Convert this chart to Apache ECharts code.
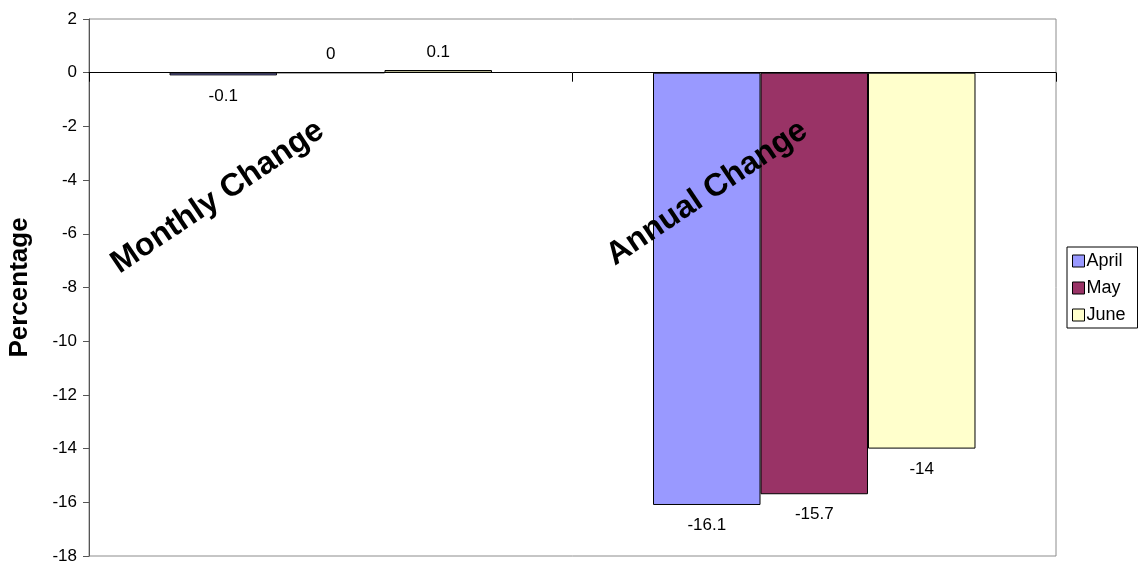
<!DOCTYPE html>
<html>
<head>
<meta charset="utf-8">
<script src="https://cdn.jsdelivr.net/npm/echarts@6/dist/echarts.min.js"></script>
<style>
html,body{margin:0;padding:0;background:#fff;}
#chart{width:1138px;height:564px;}
</style>
</head>
<body>
<div id="chart"></div>
<script>
var categories = ['Monthly Change', 'Annual Change'];
var seriesNames = ['April', 'May', 'June'];
var aprilValues = [-0.1, -16.1];
var mayValues = [0, -15.7];
var juneValues = [0.1, -14];
var yTicks = { min: -18, max: 2, interval: 2 };
var colors = ['#9999FF', '#993366', '#FFFFCC'];
var FONT = 'Liberation Sans, Arial, sans-serif';

function mkData(vals) {
  return vals.map(function (v) {
    return { value: v, label: { position: v < 0 ? 'bottom' : 'top', distance: v < 0 ? 12 : 9 } };
  });
}
var allValues = [aprilValues, mayValues, juneValues];
var series = seriesNames.map(function (name, i) {
  return {
    name: name,
    type: 'bar',
    data: mkData(allValues[i]),
    barGap: '0%',
    barCategoryGap: '33.3%',
    itemStyle: { color: colors[i], borderColor: '#000', borderWidth: 1 },
    label: { show: true, color: '#000', fontSize: 17, fontFamily: FONT },
    emphasis: { disabled: true }
  };
});

var GRID = { left: 89, right: 82, top: 19, bottom: 8 };
var chart = echarts.init(document.getElementById('chart'), null, { renderer: 'canvas' });
var option = {
  animation: false,
  backgroundColor: '#fff',
  color: colors,
  grid: { left: GRID.left, right: GRID.right, top: GRID.top, bottom: GRID.bottom, containLabel: false, outerBoundsMode: 'none', show: true, borderColor: '#8c8c8c', borderWidth: 1, backgroundColor: 'transparent' },
  legend: {
    orient: 'vertical',
    left: 1067, top: 247,
    padding: [5, 12, 4, 5],
    itemWidth: 12, itemHeight: 12, itemGap: 9,
    icon: 'rect',
    borderColor: '#000', borderWidth: 1,
    textStyle: { fontSize: 18, color: '#000', fontFamily: FONT, padding: [0, 0, 0, -3] },
    itemStyle: { borderColor: '#000', borderWidth: 1 },
    data: seriesNames
  },
  xAxis: {
    type: 'category',
    z: 5,
    data: categories,
    axisLine: { onZero: false, lineStyle: { color: '#000', width: 1 } },
    axisTick: { show: true, length: 9, lineStyle: { color: '#000' } },
    axisLabel: { rotate: 34, margin: 48, fontSize: 32, fontWeight: 'bold', color: '#000', fontFamily: FONT, padding: [0, 12, 0, 0] },
    splitLine: { show: false }
  },
  yAxis: {
    type: 'value',
    min: yTicks.min, max: yTicks.max, interval: yTicks.interval,
    name: 'Percentage',
    nameLocation: 'middle',
    nameRotate: 90,
    nameGap: 56,
    nameTextStyle: { fontSize: 26, fontWeight: 'bold', color: '#000', fontFamily: FONT },
    axisLine: { show: true, lineStyle: { color: '#555', width: 1 } },
    axisTick: { show: true, length: 6, lineStyle: { color: '#555' } },
    axisLabel: { fontSize: 17, color: '#000', fontFamily: FONT, margin: 12 },
    splitLine: { show: false }
  },
  series: series
};
chart.setOption(option);
// Move the category axis (line, ticks and labels) to the value-axis zero, using the scale.
var zeroY = chart.convertToPixel({ yAxisIndex: 0 }, 0);
var bottomY = chart.convertToPixel({ yAxisIndex: 0 }, yTicks.min);
chart.setOption({ xAxis: { offset: zeroY - bottomY } });
</script>
</body>
</html>
